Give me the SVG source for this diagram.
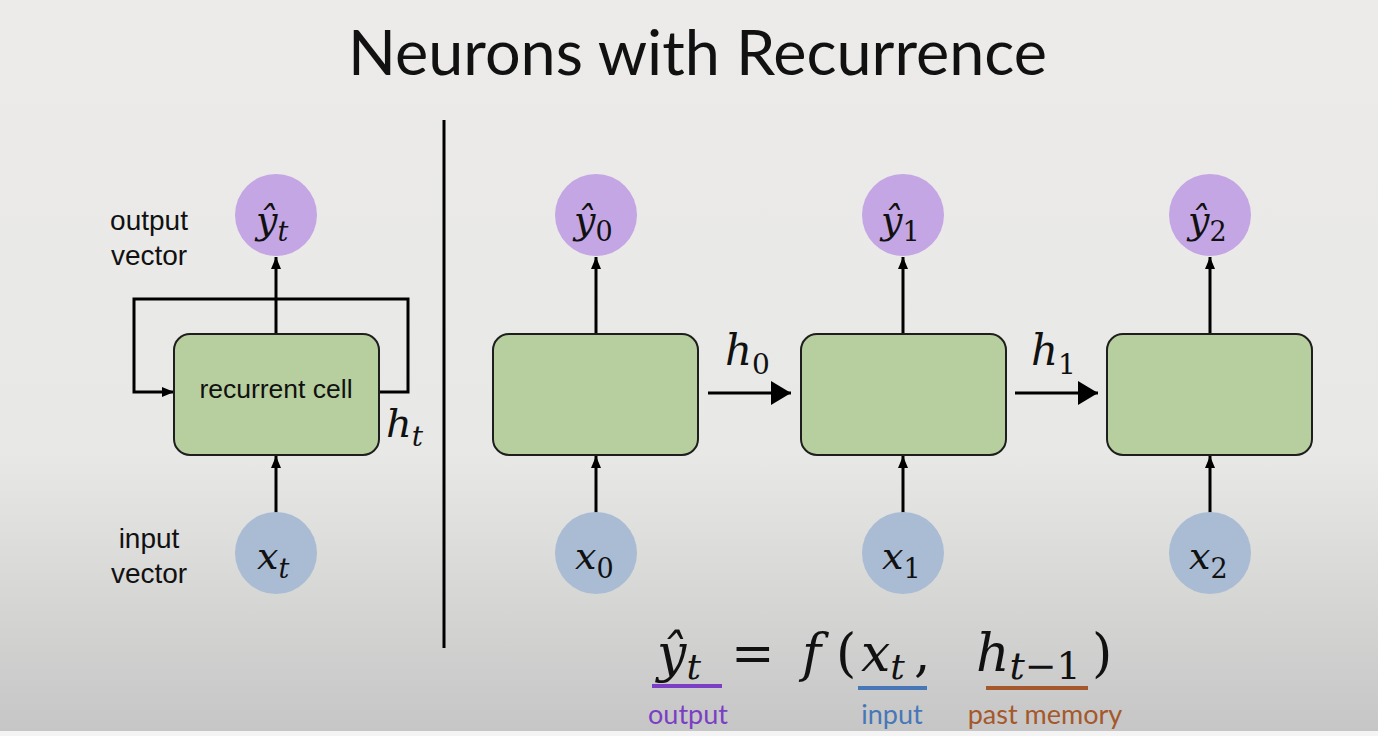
<svg xmlns="http://www.w3.org/2000/svg" width="1378" height="736" viewBox="0 0 1378 736">
<defs>
<linearGradient id="bg" x1="0" y1="0" x2="0" y2="1">
<stop offset="0" stop-color="#ecebe9"/>
<stop offset="0.62" stop-color="#e8e8e6"/>
<stop offset="1" stop-color="#c6c6c6"/>
</linearGradient>
<marker id="ah" viewBox="0 0 12 10" refX="12" refY="5" markerWidth="12" markerHeight="10" markerUnits="userSpaceOnUse" orient="auto"><path d="M0,0 L12,5 L0,10 z" fill="#000"/></marker>
<marker id="ahL" viewBox="0 0 20 24" refX="20" refY="12" markerWidth="20" markerHeight="24" markerUnits="userSpaceOnUse" orient="auto"><path d="M0,0 L20,12 L0,24 z" fill="#000"/></marker>
</defs>
<style>
.cell{fill:#b7cf9e;stroke:#1e1e1e;stroke-width:2}
.yc{fill:#c4a6e4}
.xc{fill:#a9bcd4}
.m{font-family:"DejaVu Serif","Liberation Serif",serif;font-style:italic;fill:#111}
.d{font-family:"DejaVu Serif","Liberation Serif",serif;font-style:normal;fill:#111}
.s{font-family:"Liberation Sans",Arial,sans-serif;fill:#111}
.g{font-family:Lato,"Open Sans",sans-serif}
.c{fill:none;stroke:#000;stroke-width:3}
</style>
<rect width="1378" height="731" fill="url(#bg)"/>
<rect y="731" width="1378" height="5" fill="#f4f4f4"/>

<g id="title"><text class="g" x="348" y="75" font-size="62" textLength="699" lengthAdjust="spacingAndGlyphs" fill="#111">Neurons with Recurrence</text></g>

<g id="label-output-vector"><text class="s" font-size="28" text-anchor="middle"><tspan x="149" y="230">output</tspan><tspan x="149" y="265">vector</tspan></text></g>
<g id="label-input-vector"><text class="s" font-size="28" text-anchor="middle"><tspan x="149" y="548">input</tspan><tspan x="149" y="583">vector</tspan></text></g>

<g id="divider"><line x1="444" y1="120" x2="444" y2="648" stroke="#000" stroke-width="3"/></g>

<g id="connectors">
<path class="c" d="M379,392 H408 V299 H134 V392 H174" marker-end="url(#ah)"/>
<line class="c" x1="276" y1="334" x2="276" y2="257" marker-end="url(#ah)"/>
<line class="c" x1="276" y1="513" x2="276" y2="456" marker-end="url(#ah)"/>
<line class="c" x1="596" y1="334" x2="596" y2="257" marker-end="url(#ah)"/>
<line class="c" x1="596" y1="513" x2="596" y2="456" marker-end="url(#ah)"/>
<line class="c" x1="903" y1="334" x2="903" y2="257" marker-end="url(#ah)"/>
<line class="c" x1="903" y1="513" x2="903" y2="456" marker-end="url(#ah)"/>
<line class="c" x1="1210" y1="334" x2="1210" y2="257" marker-end="url(#ah)"/>
<line class="c" x1="1210" y1="513" x2="1210" y2="456" marker-end="url(#ah)"/>
<line class="c" x1="708" y1="393" x2="791" y2="393" marker-end="url(#ahL)"/>
<line class="c" x1="1015" y1="393" x2="1098" y2="393" marker-end="url(#ahL)"/>
</g>

<g id="cell-recurrent"><rect class="cell" x="174" y="334" width="205" height="121" rx="16"/><text class="s" x="276" y="398" font-size="26.5" text-anchor="middle">recurrent cell</text></g>
<g id="label-ht"><text class="m" x="386" y="437" font-size="40">h<tspan font-size="28" dy="9">t</tspan></text></g>
<g id="node-yt"><circle class="yc" cx="276" cy="215" r="41"/><text class="m" x="256" y="233" font-size="38">ŷ<tspan font-size="27" dy="8">t</tspan></text></g>
<g id="node-xt"><circle class="xc" cx="276" cy="553" r="41"/><text class="m" x="257" y="569" font-size="38">x<tspan font-size="27" dy="9">t</tspan></text></g>

<g id="cell-0"><rect class="cell" x="493" y="334" width="205" height="121" rx="16"/></g>
<g id="cell-1"><rect class="cell" x="801" y="334" width="205" height="121" rx="16"/></g>
<g id="cell-2"><rect class="cell" x="1107" y="334" width="205" height="121" rx="16"/></g>

<g id="node-y0"><circle class="yc" cx="596" cy="215" r="41"/><text class="m" x="574" y="233" font-size="38">ŷ<tspan class="d" font-size="27" dy="8">0</tspan></text></g>
<g id="node-y1"><circle class="yc" cx="903" cy="215" r="41"/><text class="m" x="881" y="233" font-size="38">ŷ<tspan class="d" font-size="27" dy="8">1</tspan></text></g>
<g id="node-y2"><circle class="yc" cx="1210" cy="215" r="41"/><text class="m" x="1188" y="233" font-size="38">ŷ<tspan class="d" font-size="27" dy="8">2</tspan></text></g>

<g id="node-x0"><circle class="xc" cx="596" cy="553" r="41"/><text class="m" x="575" y="569" font-size="38">x<tspan class="d" font-size="27" dy="9">0</tspan></text></g>
<g id="node-x1"><circle class="xc" cx="903" cy="553" r="41"/><text class="m" x="882" y="569" font-size="38">x<tspan class="d" font-size="27" dy="9">1</tspan></text></g>
<g id="node-x2"><circle class="xc" cx="1210" cy="553" r="41"/><text class="m" x="1189" y="569" font-size="38">x<tspan class="d" font-size="27" dy="9">2</tspan></text></g>

<g id="label-h0"><text class="m" x="725" y="365" font-size="42">h<tspan class="d" font-size="28" dy="9">0</tspan></text></g>
<g id="label-h1"><text class="m" x="1031" y="365" font-size="42">h<tspan class="d" font-size="28" dy="9">1</tspan></text></g>

<g id="equation">
<text class="m" x="657" y="671" font-size="52">ŷ<tspan font-size="36" dy="8">t</tspan></text>
<text class="d" x="731" y="671" font-size="52">=</text>
<text class="m" x="802" y="671" font-size="52">f</text>
<text class="d" x="836" y="671" font-size="52">(</text>
<text class="m" x="861" y="671" font-size="52">x<tspan font-size="36" dy="8">t</tspan></text>
<text class="d" x="914" y="671" font-size="52">,</text>
<text class="m" x="976" y="671" font-size="52">h<tspan font-size="38" dy="8">t</tspan><tspan class="d" font-size="38">−1</tspan></text>
<text class="d" x="1092" y="671" font-size="52">)</text>
<line x1="652" y1="686" x2="722" y2="686" stroke="#7a3fc4" stroke-width="4"/>
<line x1="858" y1="688" x2="927" y2="688" stroke="#4877b8" stroke-width="4"/>
<line x1="986" y1="688" x2="1088" y2="688" stroke="#a5582b" stroke-width="4"/>
<text class="g" x="688" y="724" font-size="27" text-anchor="middle" fill="#7a3fc4">output</text>
<text class="g" x="892" y="724" font-size="27" text-anchor="middle" fill="#4877b8">input</text>
<text class="g" x="1045" y="724" font-size="27" text-anchor="middle" fill="#a5582b">past memory</text>
</g>
</svg>
